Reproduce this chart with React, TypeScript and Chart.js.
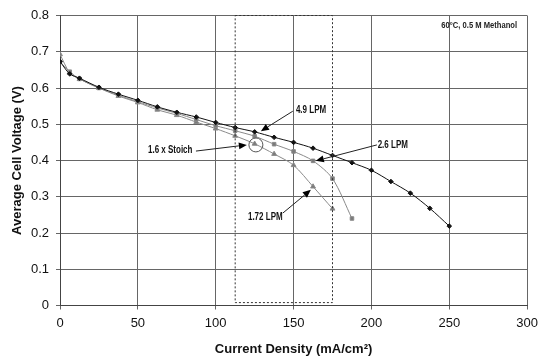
import React, { useEffect, useRef } from "react";
import { Chart, registerables } from "chart.js";

Chart.register(...registerables);

const xValues = [0, 6.25, 12.5, 25, 37.5, 50, 62.5, 75, 87.5, 100, 112.5, 125, 137.5, 150, 162.5, 175, 187.5, 200, 212.5, 225, 237.5, 250];
const lpm49 = [0.673, 0.639, 0.627, 0.602, 0.583, 0.566, 0.548, 0.533, 0.52, 0.505, 0.491, 0.479, 0.464, 0.45, 0.434, 0.414, 0.394, 0.373, 0.342, 0.31, 0.268, 0.219];
const lpm26 = [0.672, 0.645, 0.625, 0.6, 0.58, 0.562, 0.545, 0.53, 0.513, 0.496, 0.482, 0.467, 0.445, 0.425, 0.399, 0.35, 0.24];
const lpm172 = [0.693, 0.642, 0.625, 0.6, 0.578, 0.56, 0.54, 0.525, 0.506, 0.488, 0.468, 0.446, 0.418, 0.387, 0.328, 0.267];

const yTicks = [0, 0.1, 0.2, 0.3, 0.4, 0.5, 0.6, 0.7, 0.8];

// annotations in data coordinates
const labels = [
  { text: "4.9 LPM", x: 151.5, y: 0.539, fromX: 149.5, fromY: 0.536, toX: 129, toY: 0.481 },
  { text: "2.6 LPM", x: 204, y: 0.443, fromX: 203.5, fromY: 0.443, toX: 164.3, toY: 0.399 },
  { text: "1.6 x Stoich", x: 56.5, y: 0.429, fromX: 87.3, fromY: 0.426, toX: 120, toY: 0.443 },
  { text: "1.72 LPM", x: 120.7, y: 0.244, fromX: 143.1, fromY: 0.255, toX: 161.1, toY: 0.319 },
];
const circleCenter = { x: 125.8, y: 0.443 };
const noteText = "60°C, 0.5 M Methanol";
const noteX = 293.5;
const noteY = 0.774;
const boxX = [112.5, 175];
const boxY = [0.008, 0.8];

function pts(vals: number[]) {
  return vals.map((v, i) => ({ x: xValues[i], y: v }));
}

function narrowText(ctx: any, text: string, x: number, y: number, align: "left" | "right") {
  ctx.save();
  ctx.translate(x, y);
  ctx.scale(0.8, 1);
  ctx.textAlign = align;
  ctx.fillText(text, 0, 0);
  ctx.restore();
}

const annotPlugin = {
  id: "annot",
  afterDatasetsDraw(chart: any) {
    const ctx = chart.ctx;
    const xs = chart.scales.x;
    const ys = chart.scales.y;
    ctx.save();
    // dotted box
    ctx.strokeStyle = "#333";
    ctx.lineWidth = 1;
    ctx.setLineDash([2, 2]);
    const x1 = xs.getPixelForValue(boxX[0]);
    const x2 = xs.getPixelForValue(boxX[1]);
    const y1 = ys.getPixelForValue(boxY[1]);
    const y2 = ys.getPixelForValue(boxY[0]);
    ctx.strokeRect(x1, y1, x2 - x1, y2 - y1);
    ctx.setLineDash([]);
    // circle
    ctx.strokeStyle = "#555";
    ctx.beginPath();
    ctx.arc(xs.getPixelForValue(circleCenter.x), ys.getPixelForValue(circleCenter.y), 7, 0, Math.PI * 2);
    ctx.stroke();
    // labels and arrows
    ctx.font = "bold 10px 'Liberation Sans', Arial, sans-serif";
    ctx.textBaseline = "middle";
    for (const l of labels) {
      ctx.fillStyle = "#111";
      narrowText(ctx, l.text, xs.getPixelForValue(l.x), ys.getPixelForValue(l.y), "left");
      const fx = xs.getPixelForValue(l.fromX);
      const fy = ys.getPixelForValue(l.fromY);
      const tx = xs.getPixelForValue(l.toX);
      const ty = ys.getPixelForValue(l.toY);
      const ang = Math.atan2(ty - fy, tx - fx);
      const hl = 8;
      const hw = 3.5;
      const bx = tx - hl * Math.cos(ang);
      const by = ty - hl * Math.sin(ang);
      ctx.strokeStyle = "#222";
      ctx.lineWidth = 1;
      ctx.beginPath();
      ctx.moveTo(fx, fy);
      ctx.lineTo(bx, by);
      ctx.stroke();
      ctx.beginPath();
      ctx.moveTo(tx, ty);
      ctx.lineTo(bx + hw * Math.sin(ang), by - hw * Math.cos(ang));
      ctx.lineTo(bx - hw * Math.sin(ang), by + hw * Math.cos(ang));
      ctx.closePath();
      ctx.fillStyle = "#000";
      ctx.fill();
    }
    ctx.font = "bold 9.5px 'Liberation Sans', Arial, sans-serif";
    ctx.fillStyle = "#222";
    narrowText(ctx, noteText, xs.getPixelForValue(noteX), ys.getPixelForValue(noteY), "right");
    ctx.restore();
  },
};

export default function App() {
  const ref = useRef<HTMLCanvasElement>(null);
  useEffect(() => {
    document.body.style.margin = "0";
    const chart = new Chart(ref.current!, {
      type: "line",
      data: {
        datasets: [
          {
            label: "4.9 LPM",
            data: pts(lpm49),
            borderColor: "#111",
            backgroundColor: "#111",
            borderWidth: 1,
            pointStyle: "rectRot",
            pointRadius: 2.3,
            tension: 0.3,
          },
          {
            label: "2.6 LPM",
            data: pts(lpm26),
            borderColor: "#8a8a8a",
            backgroundColor: "#7a7a7a",
            borderWidth: 1,
            pointStyle: "rect",
            pointRadius: 2.5,
            tension: 0.3,
          },
          {
            label: "1.72 LPM",
            data: pts(lpm172),
            borderColor: "#8a8a8a",
            backgroundColor: "#7a7a7a",
            borderWidth: 1,
            pointStyle: "triangle",
            pointRadius: 2.8,
            tension: 0.3,
          },
        ],
      },
      options: {
        animation: false,
        responsive: false,
        layout: { padding: { top: 15.5, right: 16.5, left: 0, bottom: 0 } },
        plugins: { legend: { display: false }, tooltip: { enabled: false } },
        scales: {
          x: {
            type: "linear",
            min: 0,
            max: 300,
            afterFit: (s: any) => { s.height = 52.5; },
            ticks: { stepSize: 50, color: "#111", padding: 6, font: { family: "'Liberation Sans', Arial, sans-serif", size: 13 } },
            grid: { color: "#666", tickLength: 4, lineWidth: 1 },
            border: { color: "#444" },
            title: {
              display: true,
              text: "Current Density (mA/cm²)",
              color: "#111",
              padding: { top: 0, bottom: 1 },
              font: { family: "'Liberation Sans', Arial, sans-serif", size: 13, weight: "bold" },
            },
          },
          y: {
            type: "linear",
            min: 0,
            max: 0.8,
            afterFit: (s: any) => { s.width = 60; },
            afterBuildTicks: (s: any) => { s.ticks = yTicks.map((v) => ({ value: v })); },
            ticks: {
              color: "#111",
              padding: 7,
              font: { family: "'Liberation Sans', Arial, sans-serif", size: 13 },
              callback: (v: any) => (Number(v) === 0 ? "0" : Number(v).toFixed(1)),
            },
            grid: { color: "#666", tickLength: 4, lineWidth: 1 },
            border: { color: "#444" },
            title: {
              display: true,
              text: "Average Cell Voltage (V)",
              color: "#111",
              padding: { top: 10, bottom: 0 },
              font: { family: "'Liberation Sans', Arial, sans-serif", size: 13, weight: "bold" },
            },
          },
        },
      },
      plugins: [annotPlugin],
    });
    return () => chart.destroy();
  }, []);
  return (
    <div style={{ position: "fixed", left: 0, top: 0, width: 544, height: 358, background: "#fff" }}>
      <canvas ref={ref} width={544} height={358} style={{ width: 544, height: 358 }} />
    </div>
  );
}
